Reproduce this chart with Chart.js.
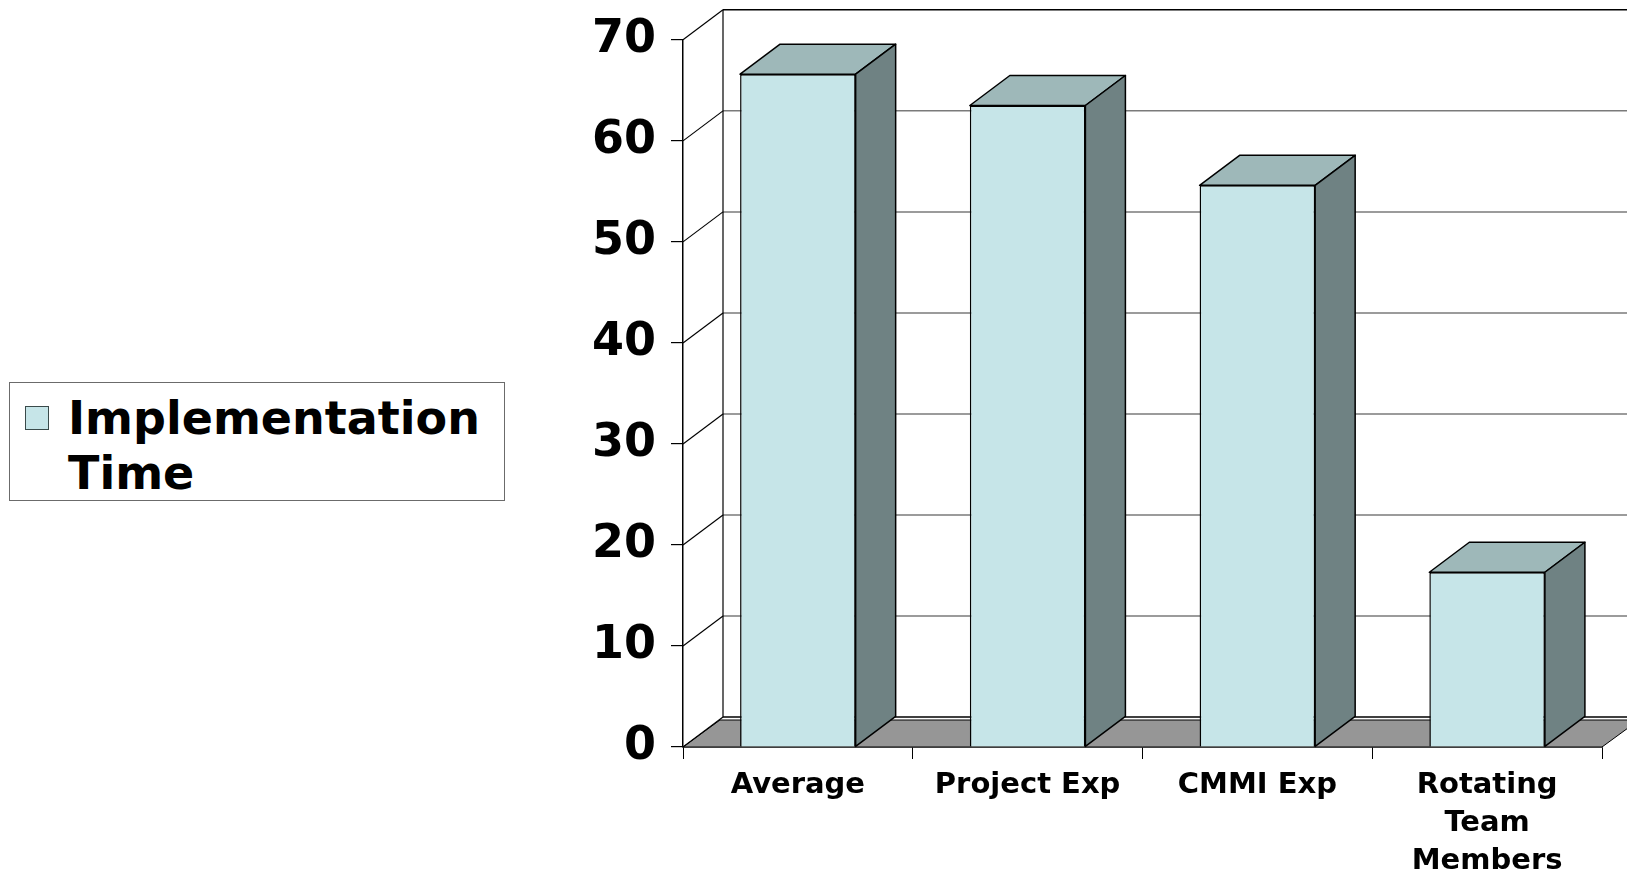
<!DOCTYPE html>
<html>
<head>
<meta charset="utf-8">
<title>Implementation Time</title>
<script src="https://cdn.jsdelivr.net/npm/chart.js@4.4.1/dist/chart.umd.min.js"></script>
<style>
    body {
        margin: 0;
        background: #ffffff;
    }
    #wrap {
        position: relative;
        width: 1627px;
        height: 874px;
    }
    #legend {
        position: absolute;
        left: 9px;
        top: 382px;
        width: 496px;
        height: 119px;
        box-sizing: border-box;
        border: 1.5px solid #6b6b6b;
        background: #ffffff;
    }
    #legend .box {
        position: absolute;
        left: 15px;
        top: 23px;
        width: 24px;
        height: 24px;
        box-sizing: border-box;
        border: 1.5px solid #3a4a4a;
    }
    #legend .text {
        position: absolute;
        left: 58px;
        top: 8px;
        width: 430px;
        font: bold 46px "DejaVu Sans", Verdana, sans-serif;
        line-height: 55px;
        color: #000000;
    }
</style>
</head>
<body>
<div id="wrap">
    <canvas id="chartTime"></canvas>
    <div id="legend"><div class="box"></div><div class="text"></div></div>
</div>
<script>
let categories = ["Average", "Project Exp", "CMMI Exp", ["Rotating", "Team", "Members"]];
let implementationTime = [66.6, 63.5, 55.6, 17.3];
let seriesLabel = "Implementation Time";
let yTicks = [0, 10, 20, 30, 40, 50, 60, 70];

let frontColor = "#c6e5e8";
let topColor = "#9eb8b9";
let sideColor = "#6f8283";
let floorColor = "#969696";

// depth of the fake 3D box (offset of the back plane)
let depthX = 40;
let depthY = -30;

Chart.defaults.font.family = "'DejaVu Sans', Verdana, sans-serif";
Chart.defaults.color = "#000000";

// walls and floor behind the bars
let wallsPlugin = {
    id: "walls",
    beforeDatasetsDraw(chart) {
        let c = chart.ctx;
        let area = chart.chartArea;
        let y = chart.scales.y;
        let y0 = y.getPixelForValue(0);
        let yTop = y.getPixelForValue(yTicks[yTicks.length - 1]);
        let farRight = chart.width + 20;

        c.save();

        // floor
        c.beginPath();
        c.moveTo(area.left, y0);
        c.lineTo(area.right, y0);
        c.lineTo(area.right + depthX - 3, y0 + depthY + 3);
        c.lineTo(area.left + depthX - 3, y0 + depthY + 3);
        c.closePath();
        c.fillStyle = floorColor;
        c.fill();
        c.strokeStyle = "#000000";
        c.lineWidth = 1;
        c.stroke();

        // back wall grid lines
        yTicks.forEach(function (v) {
            let py = y.getPixelForValue(v) + depthY;
            c.beginPath();
            c.moveTo(area.left + depthX, py);
            c.lineTo(farRight, py);
            c.strokeStyle = v == yTicks[yTicks.length - 1] || v == 0 ? "#000000" : "#7a7a7a";
            c.lineWidth = 1.5;
            c.stroke();
        });

        // back wall left edge
        c.beginPath();
        c.moveTo(area.left + depthX, y0 + depthY);
        c.lineTo(area.left + depthX, yTop + depthY);
        c.strokeStyle = "#000000";
        c.lineWidth = 1.2;
        c.stroke();

        // side wall diagonals
        yTicks.forEach(function (v) {
            let py = y.getPixelForValue(v);
            c.beginPath();
            c.moveTo(area.left, py);
            c.lineTo(area.left + depthX, py + depthY);
            c.strokeStyle = "#000000";
            c.lineWidth = 1.2;
            c.stroke();
        });

        c.restore();
    },
    afterDatasetsDraw(chart) {
        let c = chart.ctx;
        let meta = chart.getDatasetMeta(0);
        c.save();
        c.strokeStyle = "#000000";
        c.lineWidth = 1.5;
        c.lineJoin = "round";
        meta.data.forEach(function (bar) {
            let left = bar.x - bar.width / 2;
            let right = bar.x + bar.width / 2;

            // top face
            c.beginPath();
            c.moveTo(left, bar.y);
            c.lineTo(right, bar.y);
            c.lineTo(right + depthX, bar.y + depthY);
            c.lineTo(left + depthX, bar.y + depthY);
            c.closePath();
            c.fillStyle = topColor;
            c.fill();
            c.stroke();

            // right side face
            c.beginPath();
            c.moveTo(right, bar.y);
            c.lineTo(right + depthX, bar.y + depthY);
            c.lineTo(right + depthX, bar.base + depthY);
            c.lineTo(right, bar.base);
            c.closePath();
            c.fillStyle = sideColor;
            c.fill();
            c.stroke();
        });
        c.restore();
    },
};

let ctx = document.getElementById("chartTime").getContext("2d");

let myChart = new Chart(ctx, {
    type: "bar",
    data: {
        labels: categories,
        datasets: [
            {
                label: seriesLabel,
                data: implementationTime,
                backgroundColor: frontColor,
                borderColor: "#000000",
                borderWidth: 1.5,
                categoryPercentage: 1,
                barPercentage: 0.503,
            },
        ],
    },
    options: {
        responsive: true,
        maintainAspectRatio: false,
        animation: false,
        layout: {
            padding: { left: 0, right: 25, top: 0, bottom: 0 },
        },
        plugins: {
            legend: { display: false },
            tooltip: { enabled: false },
        },
        scales: {
            x: {
                grid: {
                    offset: true,
                    drawOnChartArea: false,
                    tickLength: 12,
                    color: "#000000",
                    lineWidth: 1,
                },
                border: { color: "#000000", width: 1.5 },
                ticks: {
                    padding: 8,
                    maxRotation: 0,
                    autoSkip: false,
                    font: { size: 29, weight: "bold", lineHeight: 1.3 },
                },
                afterFit: function (scale) {
                    scale.height = 127;
                },
            },
            y: {
                min: 0,
                max: 70,
                grid: {
                    drawOnChartArea: false,
                    tickLength: 12,
                    color: "#000000",
                    lineWidth: 1.2,
                },
                border: { color: "#000000", width: 1.5 },
                ticks: {
                    stepSize: 10,
                    padding: 15,
                    font: { size: 46, weight: "bold", lineHeight: 1.08 },
                },
                afterFit: function (scale) {
                    scale.width = 683;
                },
            },
        },
    },
    plugins: [wallsPlugin],
});

// legend drawn as html next to the chart
let legendBox = document.querySelector("#legend .box");
let legendText = document.querySelector("#legend .text");
legendBox.style.background = myChart.data.datasets[0].backgroundColor;
legendText.textContent = myChart.data.datasets[0].label;
</script>
</body>
</html>
